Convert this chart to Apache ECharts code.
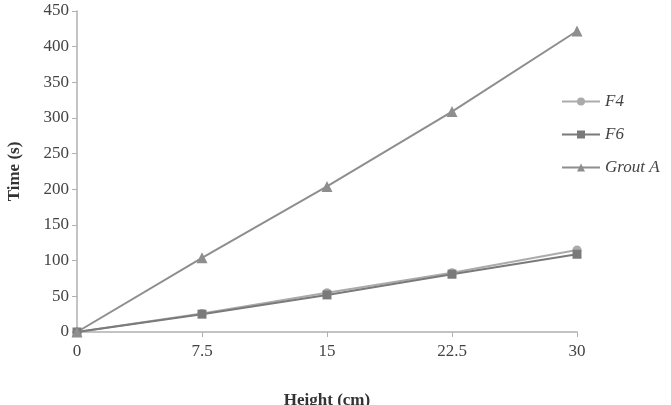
<!DOCTYPE html>
<html>
<head>
<meta charset="utf-8">
<script src="https://cdn.jsdelivr.net/npm/echarts@6/dist/echarts.min.js"></script>
<style>
  html, body { margin: 0; padding: 0; background: #fff; }
  #main { width: 671px; height: 405px; }
</style>
</head>
<body>
<div id="main"></div>
<script>
// heights (cm)
var heights = ['0', '7.5', '15', '22.5', '30'];
// times (s)
var f4 = [0, 26, 55, 83, 115];
var f6 = [0, 25, 52, 81, 109];
var groutA = [0, 104, 204, 309, 422];

var serif = '"Liberation Serif", "DejaVu Serif", serif';
var axisGrey = '#b0b0b0';

var myChart = echarts.init(document.getElementById('main'));

function line(name, data, symbol, color, size) {
    return {
        name: name,
        type: 'line',
        data: data,
        symbol: symbol,
        symbolSize: size,
        showAllSymbol: true,
        lineStyle: { color: color, width: 2 },
        itemStyle: { color: color },
        emphasis: { disabled: true }
    };
}

var option = {
    animation: false,
    grid: { left: 77, right: 94, top: 11, bottom: 73, outerBoundsMode: 'none' },
    legend: {
        orient: 'vertical',
        left: 556,
        top: 88,
        itemWidth: 38,
        itemHeight: 10,
        itemGap: 16,
        textStyle: { fontFamily: serif, fontStyle: 'italic', fontSize: 17, color: '#444' },
        data: ['F4', 'F6', 'Grout A']
    },
    xAxis: {
        type: 'category',
        data: heights,
        boundaryGap: false,
        name: 'Height (cm)',
        nameLocation: 'middle',
        nameGap: 60,
        nameTextStyle: { fontFamily: serif, fontWeight: 'bold', fontSize: 17, color: '#333' },
        axisLine: { lineStyle: { color: axisGrey, width: 1.5 } },
        axisTick: { alignWithLabel: true, length: 5, lineStyle: { color: axisGrey } },
        axisLabel: { fontFamily: serif, fontSize: 17, color: '#444', margin: 11 },
        splitLine: { show: false }
    },
    yAxis: {
        type: 'value',
        min: 0,
        max: 450,
        interval: 50,
        name: 'Time (s)',
        nameLocation: 'middle',
        nameGap: 54,
        nameTextStyle: { fontFamily: serif, fontWeight: 'bold', fontSize: 17, color: '#333' },
        axisLine: { show: true, lineStyle: { color: axisGrey, width: 1.5 } },
        axisTick: { show: true, length: 5, lineStyle: { color: axisGrey } },
        axisLabel: { fontFamily: serif, fontSize: 17, color: '#444', margin: 8 },
        splitLine: { show: false }
    },
    series: [
        line('F4', f4, 'circle', '#ababab', 9),
        line('F6', f6, 'rect', '#7a7a7a', 9),
        line('Grout A', groutA, 'triangle', '#8e8e8e', 11)
    ]
};

myChart.setOption(option);
</script>
</body>
</html>
